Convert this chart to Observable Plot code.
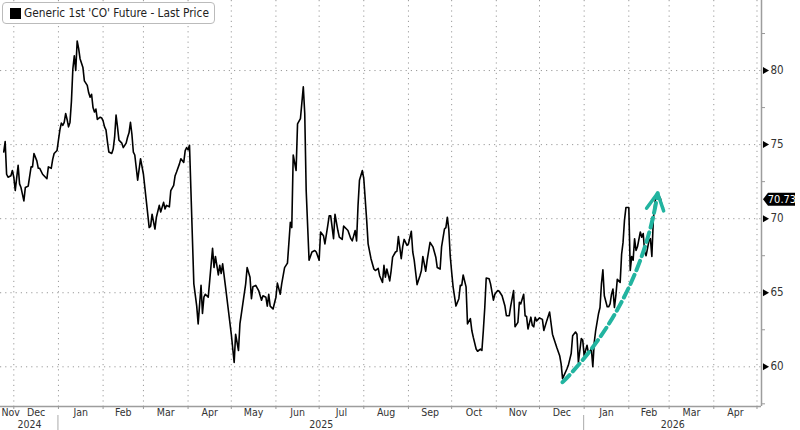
<!DOCTYPE html>
<html>
<head>
<meta charset="utf-8">
<script src="https://cdn.jsdelivr.net/npm/d3@7"></script>
<script src="https://cdn.jsdelivr.net/npm/@observablehq/plot@0.6"></script>
<style>
  body { margin: 0; background: #fff; }
  #wrap { position: relative; width: 800px; height: 430px; font-family: "Liberation Sans Narrow", "DejaVu Sans Condensed", "Roboto", sans-serif; }
  #legend { position: absolute; left: 2px; top: 2px; height: 22px; box-sizing: border-box; border: 1px solid #bbb; border-radius: 4px; background: #fff;
            display: flex; align-items: center; padding: 0 5px 0 7px; font-size: 11.8px; color: #222; white-space: nowrap; }
  #legend .sw { width: 11px; height: 11px; background: #000; margin-right: 3px; }
</style>
</head>
<body>
<div id="wrap"><div id="legend"><span class="sw"></span><span id="legendText"></span></div></div>
<script>
const seriesName = "Generic 1st 'CO' Future - Last Price";

const prices = [
["2024-11-24",74.5],["2024-11-25",75.2],["2024-11-26",73.0],["2024-11-27",72.8],["2024-11-29",72.9],["2024-11-30",73.25],
["2024-12-01",72.8],["2024-12-02",71.9],["2024-12-04",73.6],["2024-12-05",72.35],["2024-12-06",72.1],["2024-12-08",71.2],["2024-12-09",72.1],["2024-12-11",72.2],["2024-12-13",73.5],["2024-12-14",73.5],["2024-12-15",74.4],["2024-12-17",73.9],["2024-12-18",73.4],["2024-12-19",73.4],["2024-12-21",73.0],["2024-12-22",72.9],["2024-12-24",72.7],["2024-12-25",73.5],["2024-12-27",73.4],["2024-12-28",74.0],["2024-12-29",74.4],["2024-12-31",74.6],
["2025-01-01",75.3],["2025-01-02",76.0],["2025-01-03",76.45],["2025-01-04",76.3],["2025-01-05",76.5],["2025-01-06",77.1],["2025-01-07",76.7],["2025-01-08",76.2],["2025-01-09",76.5],["2025-01-10",77.9],["2025-01-11",80.1],["2025-01-12",81.0],["2025-01-13",80.0],["2025-01-14",82.0],["2025-01-15",81.5],["2025-01-16",80.8],["2025-01-18",80.2],["2025-01-19",79.3],["2025-01-21",79.0],["2025-01-22",78.5],["2025-01-23",78.2],["2025-01-24",78.4],["2025-01-25",77.5],["2025-01-26",77.2],["2025-01-27",77.4],["2025-01-28",76.7],["2025-01-30",76.85],["2025-01-31",76.8],
["2025-02-01",76.6],["2025-02-02",76.2],["2025-02-03",76.0],["2025-02-04",75.2],["2025-02-05",74.5],["2025-02-07",74.4],["2025-02-08",74.7],["2025-02-09",75.5],["2025-02-10",77.0],["2025-02-11",76.2],["2025-02-12",75.3],["2025-02-14",75.1],["2025-02-15",74.8],["2025-02-17",75.1],["2025-02-18",75.5],["2025-02-19",75.8],["2025-02-20",76.5],["2025-02-21",75.7],["2025-02-22",74.5],["2025-02-23",74.3],["2025-02-25",72.6],["2025-02-27",74.05],
["2025-03-01",73.0],["2025-03-03",71.2],["2025-03-05",69.4],["2025-03-06",69.5],["2025-03-07",70.3],["2025-03-09",69.3],["2025-03-10",70.1],["2025-03-12",70.9],["2025-03-13",70.45],["2025-03-15",71.1],["2025-03-16",70.65],["2025-03-17",70.9],["2025-03-19",70.8],["2025-03-20",71.9],["2025-03-22",72.25],["2025-03-23",72.9],["2025-03-24",73.15],["2025-03-26",73.7],["2025-03-27",74.05],["2025-03-29",73.8],["2025-03-30",74.6],["2025-03-31",74.8],
["2025-04-01",74.65],["2025-04-02",74.95],["2025-04-05",65.6],["2025-04-07",64.1],["2025-04-08",62.9],["2025-04-10",65.5],["2025-04-11",63.6],["2025-04-12",64.7],["2025-04-13",64.9],["2025-04-15",64.7],["2025-04-16",65.8],["2025-04-18",68.0],["2025-04-19",66.7],["2025-04-20",67.45],["2025-04-22",66.2],["2025-04-23",66.85],["2025-04-24",66.3],["2025-04-25",66.95],["2025-04-27",65.4],["2025-04-29",63.8],
["2025-05-01",62.2],["2025-05-03",60.3],["2025-05-04",62.2],["2025-05-06",61.1],["2025-05-07",62.9],["2025-05-09",64.25],["2025-05-11",65.6],["2025-05-12",66.7],["2025-05-14",66.05],["2025-05-15",64.6],["2025-05-16",65.4],["2025-05-18",65.5],["2025-05-20",65.15],["2025-05-22",64.5],["2025-05-23",64.8],["2025-05-25",64.7],["2025-05-26",64.1],["2025-05-27",64.9],["2025-05-28",64.1],["2025-05-30",63.9],
["2025-06-01",64.7],["2025-06-02",65.65],["2025-06-04",64.9],["2025-06-05",65.6],["2025-06-07",66.7],["2025-06-09",67.0],["2025-06-11",69.75],["2025-06-12",69.4],["2025-06-13",74.3],["2025-06-15",73.25],["2025-06-16",76.4],["2025-06-18",76.75],["2025-06-20",78.9],["2025-06-21",77.1],["2025-06-22",71.9],["2025-06-24",67.2],["2025-06-26",67.75],["2025-06-28",67.85],["2025-06-29",67.75],
["2025-07-01",67.2],["2025-07-02",69.1],["2025-07-04",68.85],["2025-07-05",68.3],["2025-07-07",69.55],["2025-07-08",70.2],["2025-07-09",70.2],["2025-07-11",68.65],["2025-07-12",70.3],["2025-07-14",69.2],["2025-07-15",68.75],["2025-07-17",68.6],["2025-07-18",69.5],["2025-07-20",69.3],["2025-07-21",69.2],["2025-07-23",68.65],["2025-07-24",68.5],["2025-07-26",69.2],["2025-07-27",68.5],["2025-07-28",70.9],["2025-07-29",72.6],["2025-07-31",73.25],
["2025-08-01",72.7],["2025-08-03",69.9],["2025-08-04",68.3],["2025-08-06",67.3],["2025-08-08",66.6],["2025-08-09",66.5],["2025-08-11",66.65],["2025-08-12",66.15],["2025-08-14",65.7],["2025-08-15",66.85],["2025-08-16",66.05],["2025-08-17",66.6],["2025-08-19",65.8],["2025-08-20",66.5],["2025-08-21",67.4],["2025-08-23",67.75],["2025-08-24",67.8],["2025-08-25",68.8],["2025-08-27",67.3],["2025-08-28",68.1],["2025-08-29",68.6],["2025-08-31",68.2],
["2025-09-01",68.3],["2025-09-03",69.15],["2025-09-04",67.75],["2025-09-05",67.2],["2025-09-07",65.55],["2025-09-09",66.15],["2025-09-10",66.5],["2025-09-11",67.45],["2025-09-13",66.45],["2025-09-14",67.2],["2025-09-16",68.4],["2025-09-18",68.1],["2025-09-20",67.4],["2025-09-21",66.7],["2025-09-23",66.6],["2025-09-24",68.1],["2025-09-26",69.3],["2025-09-27",69.4],["2025-09-28",70.1],["2025-09-29",69.3],["2025-09-30",67.5],
["2025-10-01",66.4],["2025-10-02",65.4],["2025-10-04",64.1],["2025-10-06",64.6],["2025-10-07",65.5],["2025-10-08",65.5],["2025-10-09",66.2],["2025-10-11",65.4],["2025-10-12",62.9],["2025-10-14",63.25],["2025-10-15",62.45],["2025-10-16",62.0],["2025-10-18",61.2],["2025-10-19",61.05],["2025-10-21",61.2],["2025-10-22",61.1],["2025-10-23",62.45],["2025-10-24",64.0],["2025-10-25",66.0],["2025-10-27",65.95],["2025-10-28",65.6],["2025-10-30",64.5],["2025-10-31",64.9],
["2025-11-02",65.15],["2025-11-03",65.1],["2025-11-05",64.8],["2025-11-07",64.1],["2025-11-08",63.45],["2025-11-10",63.45],["2025-11-11",64.1],["2025-11-13",65.15],["2025-11-14",62.7],["2025-11-16",63.0],["2025-11-17",64.35],["2025-11-18",64.25],["2025-11-20",64.9],["2025-11-21",63.45],["2025-11-22",63.4],["2025-11-23",62.55],["2025-11-25",63.35],["2025-11-26",62.8],["2025-11-27",62.7],["2025-11-28",63.35],["2025-11-29",63.1],
["2025-12-01",63.3],["2025-12-03",63.2],["2025-12-04",62.45],["2025-12-06",63.1],["2025-12-08",63.7],["2025-12-10",62.2],["2025-12-11",61.9],["2025-12-13",61.3],["2025-12-15",60.75],["2025-12-16",60.2],["2025-12-17",59.2],["2025-12-20",59.85],["2025-12-21",60.1],["2025-12-23",60.9],["2025-12-24",62.1],["2025-12-26",62.35],["2025-12-27",62.2],["2025-12-28",60.3],["2025-12-30",61.9],["2025-12-31",61.8],
["2026-01-01",60.75],["2026-01-02",61.1],["2026-01-03",61.45],["2026-01-04",60.9],["2026-01-06",61.2],["2026-01-07",60.0],["2026-01-08",61.65],["2026-01-09",62.45],["2026-01-11",63.6],["2026-01-12",64.0],["2026-01-13",65.6],["2026-01-14",66.55],["2026-01-15",64.8],["2026-01-17",64.05],["2026-01-18",64.05],["2026-01-19",64.25],["2026-01-20",64.9],["2026-01-21",65.25],["2026-01-22",64.0],["2026-01-23",64.8],["2026-01-24",65.9],["2026-01-26",65.7],["2026-01-27",67.6],["2026-01-28",68.4],["2026-01-29",69.9],["2026-01-30",70.75],
["2026-02-01",70.75],["2026-02-02",66.5],["2026-02-03",67.45],["2026-02-04",67.2],["2026-02-05",68.65],["2026-02-06",67.85],["2026-02-07",68.1],["2026-02-09",69.1],["2026-02-10",68.75],["2026-02-11",69.0],["2026-02-12",67.75],["2026-02-13",67.5],["2026-02-15",68.5],["2026-02-16",68.65],["2026-02-17",67.45],["2026-02-18",69.9],["2026-02-19",71.0],["2026-02-20",71.55],["2026-02-21",71.7],["2026-02-23",71.35],["2026-02-24",70.9],["2026-02-25",70.73]
];

// annotation arrow (start / end in data units)
const trendArrow = [{x1: "2025-12-17", y1: 58.96, x2: "2026-02-21", y2: 71.72}];

const yTicks = [60, 65, 70, 75, 80];
const yMinorTicks = [57.5, 62.5, 67.5, 72.5, 77.5, 82.5];

const monthStarts = ["2024-11-01","2024-12-01","2025-01-01","2025-02-01","2025-03-01","2025-04-01","2025-05-01","2025-06-01","2025-07-01","2025-08-01","2025-09-01","2025-10-01","2025-11-01","2025-12-01","2026-01-01","2026-02-01","2026-03-01","2026-04-01","2026-05-01"];
const monthLabels = ["Nov","Dec","Jan","Feb","Mar","Apr","May","Jun","Jul","Aug","Sep","Oct","Nov","Dec","Jan","Feb","Mar","Apr","May"];
const yearStarts = ["2024-01-01","2025-01-01","2026-01-01"];
const yearLabels = ["2024","2025","2026"];

// ---------- build ----------
document.getElementById("legendText").textContent = seriesName;

const xDomain = [new Date("2024-11-21T18:23:00Z"), new Date("2026-05-04T03:00:00Z")];
const yDomain = [57.32, 84.73];
const parse = s => new Date(s + "T00:00:00Z");
const clamp = d => new Date(Math.min(Math.max(+d, +xDomain[0]), +xDomain[1]));

const series = prices.map(([d, v]) => ({date: parse(d), value: v}));
const arrows = trendArrow.map(a => ({x1: parse(a.x1), y1: a.y1, x2: parse(a.x2), y2: a.y2}));

const mStarts = monthStarts.map(parse);
const gridMonths = mStarts.filter(d => d >= xDomain[0] && d <= xDomain[1]);
const monthText = mStarts.map((s, i) => {
  const e = d3.utcMonth.offset(s, 1);
  const a = clamp(s), b = clamp(e);
  return {mid: new Date((+a + +b) / 2), start: a, label: monthLabels[i], span: (b - a) / 864e5, cut: s < xDomain[0]};
}).filter(d => d.span > 6);
const yearText = yearStarts.map(parse).map((s, i) => {
  const e = d3.utcYear.offset(s, 1);
  const a = clamp(s), b = clamp(e);
  return {mid: new Date((+a + +b) / 2), label: yearLabels[i], span: (b - a) / 864e5};
}).filter(d => d.span > 6);

const font = '"Liberation Sans Narrow", "DejaVu Sans Condensed", Roboto, sans-serif';
const teal = "#22b4a0";

const chart = Plot.plot({
  width: 800, height: 430,
  marginLeft: 0, marginRight: 39, marginTop: 0, marginBottom: 24,
  style: {fontFamily: font, fontSize: "11px", color: "#333", background: "white", overflow: "visible"},
  x: {type: "utc", domain: xDomain, axis: null},
  y: {domain: yDomain, axis: null},
  marks: [
    Plot.gridX(gridMonths, {stroke: "#9a9a9a", strokeOpacity: 1, strokeDasharray: "1.2,4"}),
    Plot.gridY(yTicks, {stroke: "#9a9a9a", strokeOpacity: 1, strokeDasharray: "1.2,4"}),
    Plot.ruleY([yDomain[0]], {stroke: "#9d9d9d", strokeWidth: 1.5}),
    Plot.ruleX([xDomain[1]], {stroke: "#9d9d9d", strokeWidth: 1.5}),
    Plot.axisX(gridMonths, {tickSize: 3, tickFormat: () => "", stroke: "#999"}),
    Plot.text(monthText.filter(d => !d.cut), {x: "mid", text: "label", frameAnchor: "bottom", lineAnchor: "top", dy: 2.5, fontSize: 10.5, fill: "#333"}),
    Plot.text(monthText.filter(d => d.cut), {x: "start", text: "label", frameAnchor: "bottom", lineAnchor: "top", textAnchor: "start", dx: 1, dy: 2.5, fontSize: 10.5, fill: "#333"}),
    Plot.text(yearText, {x: "mid", text: "label", frameAnchor: "bottom", lineAnchor: "top", dy: 14, fontSize: 10.5, fill: "#333"}),
    Plot.axisY(yMinorTicks, {anchor: "right", tickSize: 3, tickFormat: () => "", stroke: "#999"}),
    Plot.axisY(yTicks, {anchor: "right", tickSize: 0, tickPadding: 9, fontSize: 11.5, fill: "#333"}),
    Plot.dot(yTicks, {y: d => d, frameAnchor: "right", symbol: "triangle", rotate: 90, r: 2.6, dx: 3.5, fill: "black", stroke: "none"}),
    Plot.line(series, {x: "date", y: "value", stroke: "black", strokeWidth: 1.6}),
    Plot.arrow(arrows, {x1: "x1", y1: "y1", x2: "x2", y2: "y2", stroke: teal, strokeWidth: 4, headLength: 7, headAngle: 55, bend: -18, ariaLabel: "trend-arrow"})
  ]
});

document.getElementById("wrap").appendChild(chart);

const svg = d3.select(chart);

// dashed shaft, solid head: split Plot's own arrow path into its two subpaths
svg.selectAll('g[aria-label="trend-arrow"] path, g[aria-label="arrow"] path').each(function() {
  const p = d3.select(this);
  const d = p.attr("d");
  const k = d.indexOf("M", 1);
  if (k < 0) return;
  p.attr("d", d.slice(0, k)).attr("stroke-dasharray", "10,5");
  d3.select(this.parentNode).append("path").attr("d", d.slice(k))
    .attr("fill", "none").attr("stroke", teal).attr("stroke-width", 3.5)
    .attr("stroke-linecap", "round").attr("stroke-linejoin", "round");
});

// year separators and last-price tag, positioned through Plot's scales
const xs = chart.scale("x"), ys = chart.scale("y");
const bottom = ys.apply(yDomain[0]);
yearStarts.map(parse).forEach(d => {
  if (d <= xDomain[0] || d >= xDomain[1]) return;
  const x = xs.apply(d);
  svg.append("line").attr("x1", x).attr("x2", x).attr("y1", bottom + 9).attr("y2", 430).attr("stroke", "#aaa").attr("stroke-width", 1);
});
const last = series[series.length - 1];
const ly = ys.apply(last.value) - 8, lx = xs.apply(xDomain[1]) + 2;
const tag = svg.append("g");
tag.append("path")
  .attr("d", `M${lx},${ly} L${lx + 5},${ly - 6.5} L${lx + 32},${ly - 6.5} L${lx + 32},${ly + 6.5} L${lx + 5},${ly + 6.5} Z`)
  .attr("fill", "black");
tag.append("text").attr("x", lx + 19).attr("y", ly).attr("dy", "0.35em").attr("text-anchor", "middle")
  .attr("fill", "white").attr("font-size", 11).attr("font-family", font).text(last.value.toFixed(2));
</script>
</body>
</html>
